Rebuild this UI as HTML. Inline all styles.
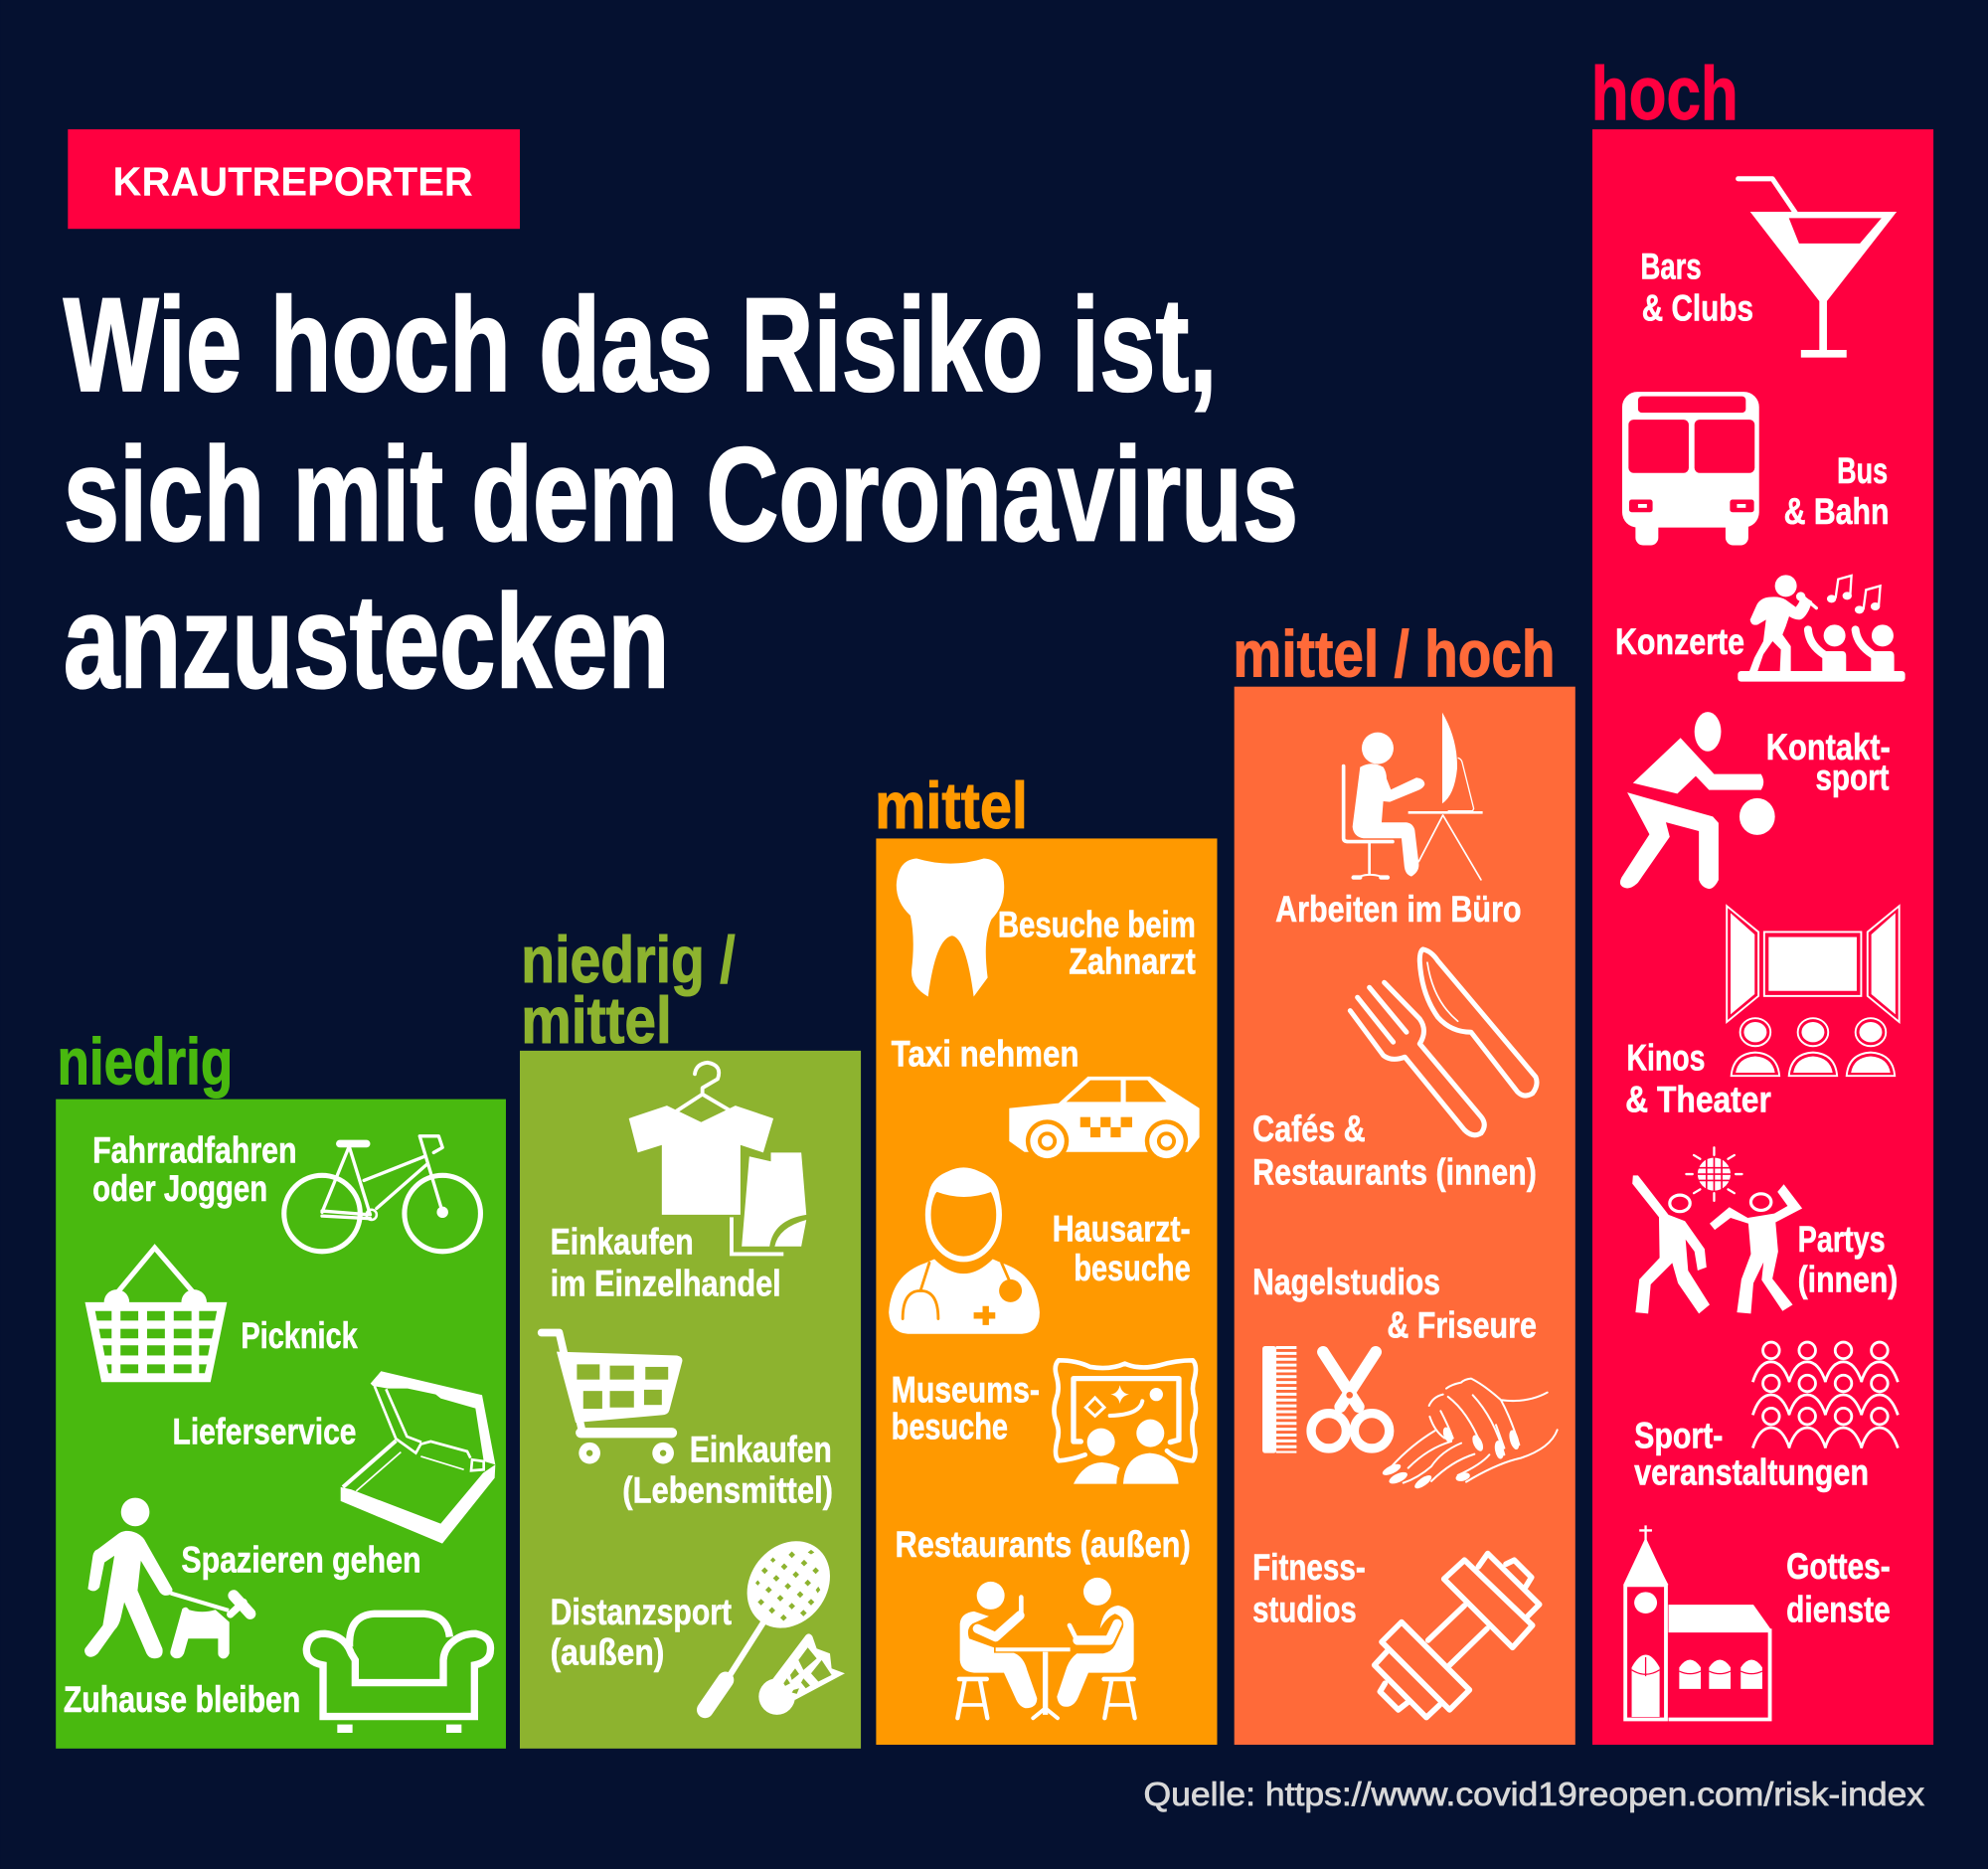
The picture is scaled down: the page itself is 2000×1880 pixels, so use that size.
<!DOCTYPE html>
<html lang="de">
<head>
<meta charset="utf-8">
<title>Wie hoch das Risiko ist, sich mit dem Coronavirus anzustecken</title>
<style>
html,body{margin:0;padding:0;background:#051130;}
svg{display:block;}
text{font-family:"Liberation Sans",Arial,sans-serif;font-weight:700;}
.l{font-size:29px;fill:#fff;stroke:#fff;stroke-width:.45;}
.t{font-size:105px;fill:#fff;stroke:#fff;stroke-width:1.6;}
.w{fill:#fff;}
.o{fill:none;stroke:#fff;}
.r{stroke-linecap:round;stroke-linejoin:round;}
</style>
</head>
<body>
<svg xmlns="http://www.w3.org/2000/svg" width="2000" height="1880" viewBox="0 0 1568 1474">
<rect width="1568" height="1474" fill="#051130"/>
<g id="bars"></g>
<g id="barLabels"></g>

<rect x="53.5" y="102" width="356.5" height="78.5" fill="#ff0040"/>
<text x="89" y="154" font-size="32" fill="#fff" textLength="284" lengthAdjust="spacingAndGlyphs">KRAUTREPORTER</text>
<g>
<text class="t" x="50" y="308" textLength="910" lengthAdjust="spacingAndGlyphs">Wie hoch das Risiko ist,</text>
<text class="t" x="50" y="426" textLength="974" lengthAdjust="spacingAndGlyphs">sich mit dem Coronavirus</text>
<text class="t" x="50" y="542" textLength="478" lengthAdjust="spacingAndGlyphs">anzustecken</text>
</g>
<text x="902" y="1424" font-size="26.5" fill="#d8d8d8" style="font-weight:400" stroke="#d8d8d8" stroke-width=".6" textLength="616" lengthAdjust="spacingAndGlyphs">Quelle: https://www.covid19reopen.com/risk-index</text>

<!-- niedrig -->
<g>
<text class="l" x="73" y="917" textLength="161" lengthAdjust="spacingAndGlyphs">Fahrradfahren</text>
<text class="l" x="73" y="947" textLength="138" lengthAdjust="spacingAndGlyphs">oder Joggen</text>
<text class="l" x="190" y="1063" textLength="92" lengthAdjust="spacingAndGlyphs">Picknick</text>
<text class="l" x="136" y="1139" textLength="145" lengthAdjust="spacingAndGlyphs">Lieferservice</text>
<text class="l" x="143" y="1240" textLength="189" lengthAdjust="spacingAndGlyphs">Spazieren gehen</text>
<text class="l" x="50" y="1350" textLength="187" lengthAdjust="spacingAndGlyphs">Zuhause bleiben</text>
</g>
<g>
<g class="o r" stroke-width="4"><circle cx="254" cy="957" r="30"/><circle cx="349" cy="957" r="30"/></g>
<path class="o r" stroke-width="2.6" d="M275 903L292 958M254 956L275 905M254 955L292 958M254 959L292 961M287 931L335 912M297 953L337 918M331 896L349 956M331 896H346L349 905L342 909"/>
<path class="o r" stroke-width="6" d="M268 902H289"/>
<circle class="w" cx="349" cy="956" r="4.5"/><circle class="o" stroke-width="2" cx="293" cy="958" r="4"/>
</g>
<g>
<path class="o" stroke-width="4" d="M92 1020L122 984L153 1020"/>
<circle class="w" cx="92" cy="1027" r="10"/><circle class="w" cx="153" cy="1027" r="10"/>
<path class="w" d="M67 1027H179L166 1090H80Z"/>
<g fill="#49b90f"><path d="M75 1034H88V1041.5H76.5Z"/><rect x="95" y="1034" width="14" height="7.5"/><rect x="116" y="1034" width="14" height="7.5"/><rect x="137" y="1034" width="14" height="7.5"/><path d="M157 1034H171L169.5 1041.5H157Z"/>
<path d="M78 1048H88V1055.5H79.5Z"/><rect x="95" y="1048" width="14" height="7.5"/><rect x="116" y="1048" width="14" height="7.5"/><rect x="137" y="1048" width="14" height="7.5"/><path d="M157 1048H168.5L167 1055.5H157Z"/>
<path d="M81 1061H88V1069H82.5Z"/><rect x="95" y="1061" width="14" height="8"/><rect x="116" y="1061" width="14" height="8"/><rect x="137" y="1061" width="14" height="8"/><path d="M157 1061H165.5L164 1069H157Z"/>
<path d="M84 1076H88V1083H85.5Z"/><rect x="95" y="1076" width="14" height="7"/><rect x="116" y="1076" width="14" height="7"/><rect x="137" y="1076" width="14" height="7"/><path d="M157 1076H163L161.5 1083H157Z"/></g>
</g>
<g transform="translate(54.9 1074.1) scale(.2613)">
<path class="w" d="M818 378L850 385L1120 488L1248 335L1285 310L1283 350L1125 548L818 420Z"/>
<path class="o" stroke-width="12" d="M825 378L985 238"/>
<path class="o" stroke-width="5" d="M865 390L1000 272M1060 285L1190 325"/>
<path class="w" d="M908 65L940 28L1245 100L1285 310L1250 300L1225 140L1120 110L1105 98L1020 80L960 80L915 72Z"/>
<path class="o" stroke-width="8" d="M920 72L985 232L1045 275L1060 248L1090 240L1200 270L1210 290"/>
<path class="o" stroke-width="8" d="M955 82L1018 225L1062 242"/>
<path class="o" stroke-width="8" d="M1215 295L1250 300V325L1212 328Z"/>
</g>
<g transform="translate(54.9 1074.1) scale(.2613)">
<circle class="w" cx="198" cy="453" r="43"/>
<path class="w" d="M170 510Q205 510 225 535L310 685Q312 705 290 705Q280 705 272 695L215 600L205 690L280 865Q285 895 255 895Q240 895 232 880L165 725L155 770Q150 795 135 810L85 880Q65 898 50 885Q40 870 50 860L100 795L135 585L105 605L90 680Q75 700 55 685L70 585Q72 570 85 565L145 520Q155 512 170 510Z"/>
<path class="o" stroke-width="12" d="M305 698L480 750"/>
<path class="w" d="M340 745Q352 735 360 748Q400 760 440 748L482 785V880Q475 898 460 895Q448 890 448 880V835H358L345 880Q335 900 315 893Q300 885 305 870Z"/>
<path class="o r" stroke-width="34" d="M495 705L545 760"/>
<path class="o r" stroke-width="22" d="M485 762L525 725"/>
</g>
<g transform="translate(54.9 1074.1) scale(.2613)">
<path class="o" stroke-width="22" d="M765 1070V915Q712 905 715 865Q720 820 770 820Q830 825 850 880L862 900V968H1128V900Q1130 870 1150 850Q1180 820 1225 820Q1275 830 1270 870Q1270 905 1222 915V1070Z"/>
<path class="o" stroke-width="22" d="M845 860Q840 765 920 760H1070Q1140 765 1147 830"/>
</g>
<rect class="w" x="266" y="1360" width="12" height="6.6"/>
<rect class="w" x="352" y="1360" width="12" height="6.6"/>

<!-- niedrig / mittel -->
<g>
<text class="l" x="434" y="989" textLength="113" lengthAdjust="spacingAndGlyphs">Einkaufen</text>
<text class="l" x="434" y="1022" textLength="182" lengthAdjust="spacingAndGlyphs">im Einzelhandel</text>
<text class="l" x="544" y="1153" textLength="112" lengthAdjust="spacingAndGlyphs">Einkaufen</text>
<text class="l" x="491" y="1185" textLength="166" lengthAdjust="spacingAndGlyphs">(Lebensmittel)</text>
<text class="l" x="434" y="1281" textLength="143" lengthAdjust="spacingAndGlyphs">Distanzsport</text>
<text class="l" x="434" y="1313" textLength="90" lengthAdjust="spacingAndGlyphs">(außen)</text>
</g>
<g>
<path class="w" d="M496 882L526 872L553 885L580 872L610 882L602 909L584 903V958H522V903L503 909Z"/>
<path class="o r" stroke-width="3" d="M534 876L554 863L576 876M554 863V858L566 851Q570 840 558 838Q549 839 548 847"/>
<path class="w" d="M591 912L608 916V909H632L636 958Q610 962 607 983H585Z"/>
<path class="w" d="M611 983Q614 968 636 962L632 983Z"/>
<path class="o" stroke-width="3" d="M577 960V989H618"/>
</g>
<g>
<path class="o r" stroke-width="6" d="M427 1051H441L459 1128"/>
<path class="w" d="M439 1066L534 1069Q539 1070 538 1074L528 1112Q527 1116 522 1116L454 1122Z"/>
<g fill="#8db32f"><rect x="455" y="1076" width="18" height="12"/><rect x="481" y="1077" width="19" height="11"/><rect x="509" y="1078" width="18" height="10"/><rect x="460" y="1097" width="15" height="14"/><rect x="481" y="1097" width="19" height="13"/><rect x="508" y="1096" width="14" height="12"/></g>
<path class="o r" stroke-width="8" d="M458 1130H530"/>
<circle class="w" cx="465" cy="1146" r="8.5"/><circle cx="465" cy="1146" r="2.5" fill="#8db32f"/>
<circle class="w" cx="523" cy="1146" r="8.5"/><circle cx="523" cy="1146" r="2.5" fill="#8db32f"/>
</g>
<g transform="translate(533.1 1199.5) scale(.2613)">
<ellipse class="w" cx="340" cy="192" rx="115" ry="140" transform="rotate(38 340 192)"/>
<path fill="#8db32f" d="M340 102l10-10l10 10l-10 10zM398 95l10-8l10 8l-10 6zM285 118l8-8l8 8l-8 8zM317 138l10-10l10 10l-10 10zM377 127l10-10l10 10l-10 10zM412 150l10-10l10 10l-10 10zM258 150l10-10l10 10l-10 10zM293 173l10-10l10 10l-10 10zM352 162l10-10l10 10l-10 10zM388 187l10-10l10 10l-10 10zM240 187l7-8l7 8l-7 8zM270 208l10-10l10 10l-10 10zM328 197l10-10l10 10l-10 10zM365 222l10-10l10 10l-10 10zM422 208l8-10l6 10l-8 10zM247 245l10-10l10 10l-10 10zM305 233l10-10l10 10l-10 10zM340 257l10-10l10 10l-10 10zM398 245l10-10l10 10l-10 10zM280 270l10-10l10 10l-10 10zM315 292l10-10l10 10l-10 10zM375 278l10-10l10 10l-10 10z"/>
<path class="o" stroke-width="18" d="M268 300L160 470"/>
<path class="o r" stroke-width="50" d="M150 480L88 570"/>
<circle class="w" cx="305" cy="530" r="55"/>
<path class="w" d="M290 480L392 345Q402 335 412 348L425 385L465 400L470 445L510 460L360 540Z"/>
<path fill="#8db32f" d="M398 382L425 415L385 450L370 420ZM440 420L470 465L430 485L408 460ZM360 445L372 462L350 480L345 465ZM335 475L345 490L330 498L325 490ZM385 475L405 497L392 505L378 488ZM355 510L372 505L365 522L350 518Z"/>
</g>

<!-- mittel -->
<g>
<text class="l" x="787" y="739" textLength="156" lengthAdjust="spacingAndGlyphs">Besuche beim</text>
<text class="l" x="843" y="768" textLength="100" lengthAdjust="spacingAndGlyphs">Zahnarzt</text>
<text class="l" x="703" y="841" textLength="148" lengthAdjust="spacingAndGlyphs">Taxi nehmen</text>
<text class="l" x="830" y="979" textLength="109" lengthAdjust="spacingAndGlyphs">Hausarzt-</text>
<text class="l" x="847" y="1010" textLength="92" lengthAdjust="spacingAndGlyphs">besuche</text>
<text class="l" x="703" y="1106" textLength="117" lengthAdjust="spacingAndGlyphs">Museums-</text>
<text class="l" x="703" y="1135" textLength="92" lengthAdjust="spacingAndGlyphs">besuche</text>
<text class="l" x="706" y="1228" textLength="233" lengthAdjust="spacingAndGlyphs">Restaurants (außen)</text>
</g>
<path class="w" d="M723 677Q750 685 776 677Q792 678 792 700Q792 715 782 725Q775 740 779 771L768 786Q762 740 751 738Q738 740 732 786Q718 778 719 765Q722 740 718 722Q707 712 707 698Q708 678 723 677Z"/>
<g>
<path class="w" d="M796 874L835 870L858 849H907L946 874V897L937 908.5H808L796 900Z"/>
<g fill="#ff9900"><path d="M841 869L860 852H884V869Z"/><path d="M888 852H905L920 869H888Z"/>
<rect x="852" y="881" width="8" height="8"/><rect x="868" y="881" width="8" height="8"/><rect x="884" y="881" width="9" height="8"/><rect x="860" y="889" width="8" height="8"/><rect x="876" y="889" width="8" height="8"/>
<circle cx="826" cy="900" r="17"/><circle cx="920" cy="900" r="17"/></g>
<circle class="w" cx="826" cy="900" r="13.5"/><circle class="w" cx="920" cy="900" r="13.5"/>
<circle cx="826" cy="900" r="7.5" fill="#ff9900"/><circle cx="920" cy="900" r="7.5" fill="#ff9900"/>
<circle class="w" cx="826" cy="900" r="4.5"/><circle class="w" cx="920" cy="900" r="4.5"/>
</g>
<g>
<ellipse class="o" stroke-width="4.5" cx="760" cy="958" rx="28" ry="35"/>
<path class="w" d="M733 955Q727 925 760 921Q793 925 788 955Q786 942 782 940Q760 948 739 940Q734 945 733 955Z"/>
<path class="w" d="M701 1035Q703 1005 730 996L737 993Q760 1016 783 993L790 996Q818 1005 820 1035Q820 1051 806 1052H716Q702 1051 701 1035Z"/>
<g class="o r" style="stroke:#ff9900" stroke-width="2.2"><path d="M712 1040Q712 1018 726 1018Q740 1018 740 1040M726 1018L733 996M790 996L797 1012"/></g>
<circle cx="797" cy="1018" r="9" fill="#ff9900"/>
<path fill="#ff9900" d="M775 1030H780V1035H785V1040H780V1045H775V1040H768V1035H775Z"/>
</g>
<g transform="translate(744.8 1050.6) scale(.2613)">
<path class="o r" stroke-width="14" d="M425 370Q385 385 345 388Q330 375 340 330Q350 300 338 270Q325 240 338 200Q350 170 338 130Q330 100 345 85Q400 85 440 105Q500 115 545 95Q590 115 650 100Q700 85 750 85Q765 100 755 140Q745 170 755 200Q765 240 750 270Q745 310 755 340Q762 370 750 388Q700 385 672 358"/>
<path class="o r" stroke-width="16" d="M412 330H390V140H708V325L682 332"/>
<path class="o" stroke-width="9" d="M455 198L483 227L455 253L427 227Z"/>
<path class="w" d="M530 160Q535 185 558 188Q535 192 530 216Q525 192 502 188Q525 185 530 160Z"/>
<circle class="w" cx="640" cy="188" r="20"/>
<path class="o r" stroke-width="12" d="M500 252Q590 250 598 208"/>
<circle class="w" cx="473" cy="332" r="42"/><circle class="w" cx="622" cy="305" r="42"/>
<path class="w" d="M390 458Q420 395 475 393Q510 395 530 410Q520 430 520 458Z"/>
<path class="w" d="M540 458Q545 370 620 365Q700 370 707 458Z"/>
</g>
<g transform="translate(744.8 1050.6) scale(.2613)">
<circle class="w" cx="140" cy="795" r="42"/><circle class="w" cx="462" cy="783" r="42"/>
<path class="w" d="M47 880Q50 848 90 843L135 858L85 880Q65 895 75 925L150 952V968H210Q240 980 250 1020L280 1105Q280 1135 245 1135Q225 1130 215 1105L180 1028H90Q50 1025 47 990Z"/>
<path class="o r" stroke-width="28" d="M100 895L155 920L228 855"/>
<path class="o r" stroke-width="14" d="M232 860V800"/>
<path class="w" d="M572 880Q570 835 525 825Q480 830 470 895Q490 860 515 850Q545 860 540 890L515 945Q505 965 480 970H400Q380 985 370 1010L340 1100Q345 1135 375 1130Q395 1125 405 1100L435 1028H530Q570 1025 572 990Z"/>
<path class="o r" stroke-width="28" d="M522 880L498 930H402"/>
<path class="o r" stroke-width="14" d="M398 925L378 885"/>
<path class="o" stroke-width="12" d="M155 958H380"/>
<path class="o" stroke-width="16" d="M305 965V1155"/>
<path class="o r" stroke-width="12" d="M268 1165L305 1135L342 1165"/>
<path class="o r" stroke-width="14" d="M45 1047H128M482 1047H572"/>
<path class="o r" stroke-width="13" d="M62 1050L40 1165M108 1050L130 1165M505 1050L484 1165M553 1050L575 1165"/>
<path class="o" stroke-width="11" d="M50 1125H122M494 1125H566"/>
</g>

<!-- mittel / hoch -->
<g>
<text class="l" x="1006" y="727" textLength="194" lengthAdjust="spacingAndGlyphs">Arbeiten im Büro</text>
<text class="l" x="988" y="900" textLength="89" lengthAdjust="spacingAndGlyphs">Cafés &amp;</text>
<text class="l" x="988" y="934" textLength="224" lengthAdjust="spacingAndGlyphs">Restaurants (innen)</text>
<text class="l" x="988" y="1021" textLength="148" lengthAdjust="spacingAndGlyphs">Nagelstudios</text>
<text class="l" x="1094" y="1055" textLength="118" lengthAdjust="spacingAndGlyphs">&amp; Friseure</text>
<text class="l" x="988" y="1246" textLength="89" lengthAdjust="spacingAndGlyphs">Fitness-</text>
<text class="l" x="988" y="1279" textLength="82" lengthAdjust="spacingAndGlyphs">studios</text>
</g>
<g transform="translate(1019.2 548.8) scale(.2613)">
<circle class="w" cx="258" cy="158" r="48"/>
<path class="w" d="M205 215Q240 195 275 215Q285 230 285 250L298 283L375 247Q400 250 400 268Q395 280 380 285L295 320L275 318L270 382H345Q365 385 370 405L382 505Q385 530 360 545Q340 540 338 510L330 430H215Q185 425 182 395Z"/>
<path class="o r" stroke-width="11" d="M155 212V430Q155 440 170 440H303"/>
<path class="o" stroke-width="8" d="M233 440V540"/>
<path class="o r" stroke-width="13" d="M185 548H205M268 548H288"/>
<path class="o" stroke-width="6" d="M205 545Q233 535 268 545"/>
<path class="o" stroke-width="8" d="M350 352H575"/>
<path class="o r" stroke-width="5" d="M455 360L382 500M455 360L570 555"/>
<path class="w" d="M453 50Q500 130 498 220Q490 300 453 325Z"/>
<path class="o" stroke-width="4" d="M500 187Q510 190 513 200L548 340L545 347H470"/>
</g>
<g transform="translate(1019.2 548.8) scale(.2613)">
<path class="o r" stroke-width="15" d="M395 765Q420 770 440 800L735 1150Q745 1175 725 1200Q700 1215 680 1195L540 1015Q480 1015 440 970Q390 900 385 800Q385 770 395 765Z"/>
<path class="o r" stroke-width="5" d="M408 805Q425 920 500 982"/>
<path class="o r" stroke-width="15" d="M175 950L275 1085Q300 1105 340 1090L520 1310Q545 1335 570 1320Q590 1295 570 1270L385 1050Q410 1010 385 975L278 865M197 910L305 1045M233 880L345 1015"/>
</g>
<g transform="translate(987.9 1050.6) scale(.2613)">
<rect class="w" x="30" y="42" width="42" height="323" rx="8"/>
<line x1="102" y1="42" x2="102" y2="365" stroke="#fff" stroke-width="62" stroke-dasharray="9 8.6"/>
<path class="o r" stroke-width="36" d="M213 60L320 225"/>
<path class="o r" stroke-width="36" d="M372 60L265 225"/>
<circle class="o" stroke-width="28" cx="230" cy="298" r="53"/><circle class="o" stroke-width="28" cx="360" cy="298" r="53"/>
<circle cx="293" cy="190" r="10" fill="#ff6a39"/>
<path class="o r" stroke-width="6" d="M890 182Q830 215 750 205Q700 160 660 140Q640 142 630 152Q600 158 585 170M575 188Q545 195 533 222M535 255Q550 300 580 320M568 238Q590 280 605 320M590 195Q650 240 690 340M665 190Q730 260 760 370M750 205Q780 260 805 340M735 280L760 350M920 295Q900 350 810 380Q740 395 645 452M715 370Q690 400 620 432M550 298Q480 340 420 405M600 330Q530 350 470 410M630 335Q570 360 540 405Q500 440 455 455M670 368Q600 390 540 450"/>
<g class="w"><ellipse cx="590" cy="310" rx="13" ry="24" transform="rotate(-20 590 310)"/><ellipse cx="680" cy="335" rx="13" ry="26" transform="rotate(-25 680 335)"/><ellipse cx="745" cy="355" rx="13" ry="28" transform="rotate(-10 745 355)"/><ellipse cx="790" cy="325" rx="13" ry="30" transform="rotate(-15 790 325)"/><ellipse cx="420" cy="415" rx="30" ry="12" transform="rotate(-25 420 415)"/><ellipse cx="440" cy="440" rx="30" ry="13" transform="rotate(-25 440 440)"/><ellipse cx="515" cy="452" rx="30" ry="12" transform="rotate(-35 515 452)"/><ellipse cx="635" cy="437" rx="22" ry="12" transform="rotate(-15 635 437)"/></g>
</g>
<g class="o r" stroke-width="17" transform="translate(987.9 1050.6) scale(.2613)">
<path d="M640 688L845 885L785 952L578 745Z"/>
<path d="M682 708L710 668L866 822L828 860"/>
<path d="M765 700L790 688L842 740L825 768"/>
<path d="M530 930L640 825M595 1005L708 895"/>
<path d="M450 875L655 1080L595 1140L390 935Z"/>
<path d="M405 965L368 1005L525 1163L565 1125"/>
<path d="M400 1060L385 1085L440 1140L468 1118"/>
</g>

<!-- hoch -->
<g>
<text class="l" x="1294" y="220" textLength="48" lengthAdjust="spacingAndGlyphs">Bars</text>
<text class="l" x="1295" y="253" textLength="88" lengthAdjust="spacingAndGlyphs">&amp; Clubs</text>
<text class="l" x="1449" y="381" textLength="40" lengthAdjust="spacingAndGlyphs">Bus</text>
<text class="l" x="1407" y="413" textLength="83" lengthAdjust="spacingAndGlyphs">&amp; Bahn</text>
<text class="l" x="1274" y="516" textLength="102" lengthAdjust="spacingAndGlyphs">Konzerte</text>
<text class="l" x="1393" y="599" textLength="98" lengthAdjust="spacingAndGlyphs">Kontakt-</text>
<text class="l" x="1432" y="623" textLength="58" lengthAdjust="spacingAndGlyphs">sport</text>
<text class="l" x="1283" y="844" textLength="62" lengthAdjust="spacingAndGlyphs">Kinos</text>
<text class="l" x="1282" y="877" textLength="115" lengthAdjust="spacingAndGlyphs">&amp; Theater</text>
<text class="l" x="1418" y="987" textLength="69" lengthAdjust="spacingAndGlyphs">Partys</text>
<text class="l" x="1418" y="1019" textLength="79" lengthAdjust="spacingAndGlyphs">(innen)</text>
<text class="l" x="1289" y="1142" textLength="70" lengthAdjust="spacingAndGlyphs">Sport-</text>
<text class="l" x="1289" y="1171" textLength="185" lengthAdjust="spacingAndGlyphs">veranstaltungen</text>
<text class="l" x="1409" y="1245" textLength="82" lengthAdjust="spacingAndGlyphs">Gottes-</text>
<text class="l" x="1409" y="1279" textLength="82" lengthAdjust="spacingAndGlyphs">dienste</text>
</g>
<g>
<path class="o r" stroke-width="4" d="M1371 141H1398L1419 172"/>
<path class="w" d="M1380.5 167H1496L1441 205V276H1456.5V282H1420.5V276H1435V237.5Z"/>
<path class="w" d="M1380.5 167H1496L1441 237.5H1435Z"/>
<path fill="#ff0040" d="M1411 172H1484L1467 192H1419Z"/>
</g>
<g>
<rect class="w" x="1279.5" y="309" width="108" height="107" rx="12"/>
<rect class="w" x="1290" y="410" width="18" height="20" rx="6"/><rect class="w" x="1361" y="410" width="18" height="20" rx="6"/>
<g fill="#ff0040"><rect x="1292" y="312.5" width="85" height="13" rx="3"/><rect x="1284.5" y="331" width="47.5" height="42" rx="4"/><rect x="1336.5" y="331" width="47.5" height="42" rx="4"/><rect x="1285" y="394" width="18.5" height="10" rx="2"/><rect x="1364.5" y="394" width="19" height="10" rx="2"/></g>
<rect class="w" x="1292" y="397.5" width="7" height="3"/><rect class="w" x="1370" y="397.5" width="7" height="3"/>
</g>
<g transform="translate(1270.1 446.9) scale(.2613)">
<rect class="w" x="385" y="315" width="505" height="32" rx="10"/>
<circle class="w" cx="530" cy="58" r="33"/>
<path class="w" d="M440 120Q450 95 480 92Q510 88 530 100L560 122Q570 110 575 95L585 90L610 105L600 130Q585 160 570 160Q555 160 540 150L530 180L520 205L545 240V315H512L515 250L490 225L462 265L445 315H420L435 275L462 225L470 160L445 175Q425 180 422 160Z"/>
<path class="o r" stroke-width="10" d="M575 85L622 125"/>
<circle class="w" cx="575" cy="90" r="14"/>
<circle class="w" cx="677" cy="208" r="33"/><circle class="w" cx="822" cy="208" r="33"/>
<path class="w" d="M640 255H700Q712 255 712 270V320H640Z"/>
<path class="w" d="M787 255H845Q857 255 857 270V320H787Z"/>
<path class="o r" stroke-width="24" d="M597 190Q600 235 645 265M740 190Q745 235 792 265"/>
<path class="o" stroke-width="7" d="M680 95L688 38L728 27L724 90M764 130L772 70L815 58L810 122"/>
<g class="w"><ellipse cx="668" cy="97" rx="14" ry="12"/><ellipse cx="715" cy="88" rx="14" ry="12"/><ellipse cx="752" cy="130" rx="14" ry="12"/><ellipse cx="800" cy="120" rx="14" ry="12"/></g>
</g>
<g>
<ellipse class="w" cx="1347" cy="577" rx="10.5" ry="15.5"/>
<ellipse class="w" cx="1386" cy="644" rx="14" ry="14.5"/>
<path class="w" d="M1288 617.5L1325.5 582L1352 610.5H1389Q1393 617 1389 623H1348L1337.5 612L1323 626Z"/>
<path class="w" d="M1283.5 625L1351 644L1355.5 649V694Q1352 701 1348 701Q1342 700 1340 694V655.5L1314 648.5L1317 660L1292 696Q1286 702 1281 700Q1276 698 1279 692L1301 658Z"/>
</g>
<g>
<rect class="o" stroke-width="1.5" x="1391.5" y="735" width="76.5" height="50.5"/>
<rect class="w" x="1395" y="739" width="69.5" height="42.5"/>
<path class="o" stroke-width="1.5" d="M1362 714.5L1387 735V785.5L1362 806Z"/>
<path class="w" d="M1365 720L1384 737V784L1365 800Z"/>
<path class="o" stroke-width="1.5" d="M1498 714.5L1473 735V785.5L1498 806Z"/>
<path class="w" d="M1495 720L1476 737V784L1495 800Z"/>
<g id="viewer"><ellipse class="o" stroke-width="1.5" cx="1384.5" cy="814" rx="12" ry="11"/><ellipse class="w" cx="1384.5" cy="814" rx="9" ry="8"/>
<path class="o" stroke-width="1.5" d="M1365.5 848.5Q1367 831 1384.5 830Q1402 831 1403.5 848.5Z"/><path class="w" d="M1369 846Q1371 834 1384.5 833Q1398 834 1400 846Z"/></g>
<use href="#viewer" x="45.5"/><use href="#viewer" x="91"/>
</g>
<g>
<circle class="w" cx="1352" cy="926" r="13"/>
<path class="o" style="stroke:#ff0040" stroke-width="1.3" d="M1339 921H1365M1339 926H1365M1339 931H1365M1346 913V939M1352 913V939M1358 913V939"/>
<path class="o r" stroke-width="1.8" d="M1352 905V911M1352 941V947M1330 926H1335M1369 926H1374M1336 911L1341 914M1368 911L1363 914M1336 941L1341 938M1368 941L1363 938"/>
<ellipse class="o" stroke-width="2.5" cx="1325" cy="949" rx="8" ry="6.5"/><ellipse class="o" stroke-width="2.5" cx="1389" cy="948" rx="8" ry="6.5"/>
<path class="w" d="M1288 927H1292L1316 958L1329 963L1344.5 985L1346 999.5L1339 1002L1336.5 987L1329.5 977.5L1331.5 1002L1348.5 1029L1340 1036L1323.5 1012L1319 996L1302 1013L1300 1036L1290 1035L1293 1009L1309 992L1308.5 960L1287.5 933.5Z"/>
<path class="w" d="M1348.5 965L1364 952L1378.5 960.5L1399.5 957L1410 951L1402 940L1407 934L1421.5 953L1400.5 964L1402.5 987L1398 1008.5L1414 1029L1406 1034L1389.5 1009.5L1391 995.5L1383 1012L1381 1036L1370 1035L1373.5 1009L1381 989L1379 965L1365 960.5L1352.5 970Z"/>
</g>
<g>
<defs><g id="fan" fill="none" stroke="#fff" stroke-width="2.2"><circle cx="1397" cy="1065" r="6.5"/><path d="M1382.5 1090Q1387.5 1074 1397 1074Q1406 1074 1411.5 1090"/></g></defs>
<use href="#fan"/><use href="#fan" x="28.5"/><use href="#fan" x="57"/><use href="#fan" x="85.5"/>
<use href="#fan" y="26"/><use href="#fan" x="28.5" y="26"/><use href="#fan" x="57" y="26"/><use href="#fan" x="85.5" y="26"/>
<use href="#fan" y="52"/><use href="#fan" x="28.5" y="52"/><use href="#fan" x="57" y="52"/><use href="#fan" x="85.5" y="52"/>
</g>
<g>
<path class="o" stroke-width="1.8" d="M1298 1203V1215M1293 1207H1303"/>
<path class="o" stroke-width="3" d="M1282 1250L1298 1216L1314 1250V1356H1282Z M1282 1250H1314"/>
<path class="w" d="M1280.5 1250L1298 1216L1316 1250Z"/>
<ellipse class="w" cx="1298" cy="1264" rx="9" ry="8.5"/>
<path class="w" d="M1287 1315Q1298 1295 1309 1315V1354H1287Z"/>
<path class="o" style="stroke:#ff0040" stroke-width="1" d="M1287 1317Q1298 1324 1309 1317M1298 1307V1322"/>
<path class="w" d="M1316 1265.5H1383L1397.5 1286H1316Z"/>
<path class="o" stroke-width="3" d="M1316 1286H1396V1356H1316"/>
<g id="arch"><path class="w" d="M1324.5 1332V1315Q1333 1303 1341.5 1315V1332Z"/><path class="o" style="stroke:#ff0040" stroke-width="1" d="M1324.5 1318Q1333 1322 1341.5 1318"/></g>
<use href="#arch" x="23.5"/><use href="#arch" x="48.5"/>
</g>
</svg>
<script>
const riskCategories = ['niedrig', 'niedrig / mittel', 'mittel', 'mittel / hoch', 'hoch'];
const riskValues = [40.2, 43.2, 56.1, 65.5, 100];
const categoryLabelLines = [['niedrig'], ['niedrig /', 'mittel'], ['mittel'], ['mittel / hoch'], ['hoch']];
const barColors = ['#49b90f', '#8db32f', '#ff9900', '#ff6a39', '#ff0040'];
const labelCondense = [[0.8], [0.835, 0.857], [0.87], [0.83], [0.81]];

function xBand(i) { return i === 0 ? 44 : 410 + (i - 1) * 282 - (i === 2 ? 1 : i === 3 ? 0.5 : 0); }
function bandWidth(i) { return i === 0 ? 355 : 269; }
function yBase(i) { return i < 2 ? 1379 : 1376; }
function barHeight(v) { return v * 12.74; }
function labelSize(i) { return i === 4 ? 60 : 52; }
function labelGap(i) { return i === 0 ? 12 : i === 1 ? 6 : 8; }
function labelInset(i) { return i < 2 ? 1 : -1; }

const NS = 'http://www.w3.org/2000/svg';
const barsGroup = document.getElementById('bars');
const labelsGroup = document.getElementById('barLabels');
riskValues.forEach(function (v, i) {
  const top = yBase(i) - barHeight(v);
  const rect = document.createElementNS(NS, 'rect');
  
  
  rect.setAttribute('x', xBand(i));
  rect.setAttribute('y', top);
  rect.setAttribute('width', bandWidth(i));
  rect.setAttribute('height', barHeight(v));
  rect.setAttribute('fill', barColors[i]);
  barsGroup.appendChild(rect);
  const lines = categoryLabelLines[i];
  lines.forEach(function (line, k) {
    const t = document.createElementNS(NS, 'text');
    
    
    t.setAttribute('x', xBand(i) + labelInset(i));
    t.setAttribute('y', top - labelGap(i) - (lines.length - 1 - k) * 48);
    t.setAttribute('font-size', labelSize(i));
    t.setAttribute('fill', barColors[i]);
    t.setAttribute('stroke', barColors[i]);
    t.setAttribute('stroke-width', '0.8');
    t.textContent = line;
    labelsGroup.appendChild(t);
    const natural = t.getComputedTextLength();
    t.setAttribute('textLength', natural * labelCondense[i][k]);
    t.setAttribute('lengthAdjust', 'spacingAndGlyphs');
  });
});
</script>
</body>
</html>
